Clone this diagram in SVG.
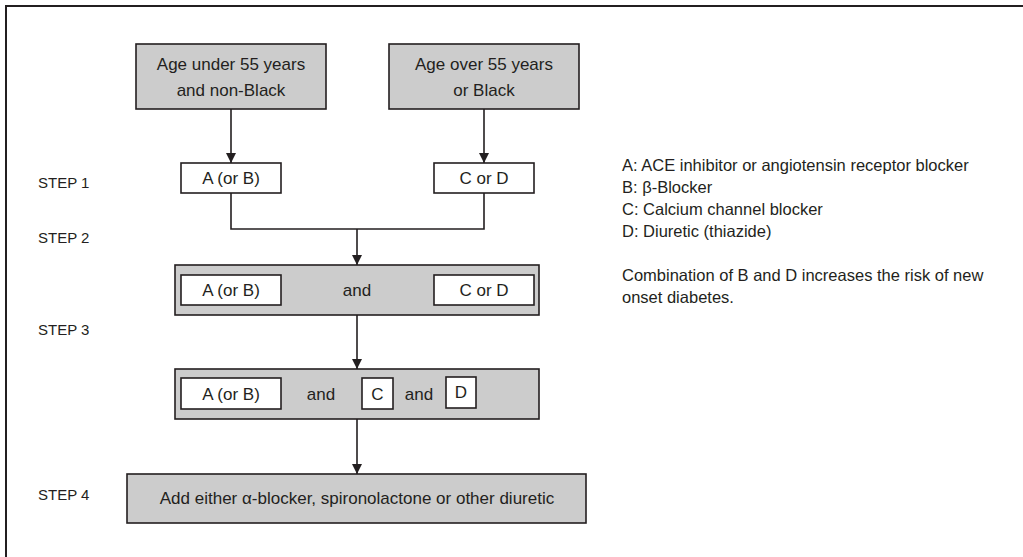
<svg xmlns="http://www.w3.org/2000/svg" width="1023" height="557" viewBox="0 0 1023 557">
<style>
  text { font-family: "Liberation Sans", Arial, sans-serif; fill: #231f20; }
  .big { font-size: 17px; text-anchor: middle; }
  .lbl { font-size: 15px; }
  .leg { font-size: 16.5px; }
  .gray { fill: #cccccc; stroke: #231f20; stroke-width: 1.6; }
  .white { fill: #ffffff; stroke: #231f20; stroke-width: 1.6; }
  .conn { fill: none; stroke: #231f20; stroke-width: 1.6; }
</style>
<defs>
  <marker id="arr" viewBox="0 0 10 14" refX="10" refY="7" markerWidth="10" markerHeight="14" markerUnits="userSpaceOnUse" orient="auto">
    <path d="M0,2 L10,7 L0,12 z" fill="#231f20"/>
  </marker>
</defs>
<rect width="1023" height="557" fill="#ffffff"/>
<path d="M6,557 L6,6 L1023,6" fill="none" stroke="#231f20" stroke-width="2"/>

<g id="connectors">
  <line class="conn" x1="231" y1="109" x2="231" y2="163" marker-end="url(#arr)"/>
  <line class="conn" x1="484" y1="109" x2="484" y2="163" marker-end="url(#arr)"/>
  <polyline class="conn" points="231,193 231,229 484,229 484,193"/>
  <line class="conn" x1="357" y1="229" x2="357" y2="265" marker-end="url(#arr)"/>
  <line class="conn" x1="357" y1="315" x2="357" y2="369" marker-end="url(#arr)"/>
  <line class="conn" x1="357" y1="419" x2="357" y2="474" marker-end="url(#arr)"/>
</g>

<g id="start-under55">
  <rect class="gray" x="136" y="44" width="190" height="65"/>
  <text class="big" x="231" y="70">Age under 55 years</text>
  <text class="big" x="231" y="96">and non-Black</text>
</g>
<g id="start-over55">
  <rect class="gray" x="389" y="44" width="190" height="65"/>
  <text class="big" x="484" y="70">Age over 55 years</text>
  <text class="big" x="484" y="96">or Black</text>
</g>

<g id="step-labels">
  <text class="lbl" x="38" y="188">STEP 1</text>
  <text class="lbl" x="38" y="243">STEP 2</text>
  <text class="lbl" x="38" y="335">STEP 3</text>
  <text class="lbl" x="38" y="500">STEP 4</text>
</g>

<g id="step1-a">
  <rect class="white" x="181" y="163" width="100" height="30"/>
  <text class="big" x="231" y="184">A (or B)</text>
</g>
<g id="step1-cd">
  <rect class="white" x="434" y="163" width="100" height="30"/>
  <text class="big" x="484" y="184">C or D</text>
</g>

<g id="step2">
  <rect class="gray" x="175" y="265" width="364" height="50"/>
  <rect class="white" x="181" y="275" width="100" height="30"/>
  <text class="big" x="231" y="296">A (or B)</text>
  <text class="big" x="357" y="296">and</text>
  <rect class="white" x="434" y="275" width="100" height="30"/>
  <text class="big" x="484" y="296">C or D</text>
</g>

<g id="step3">
  <rect class="gray" x="175" y="369" width="364" height="50"/>
  <rect class="white" x="181" y="378" width="100" height="31"/>
  <text class="big" x="231" y="400">A (or B)</text>
  <text class="big" x="321" y="400">and</text>
  <rect class="white" x="362" y="378" width="31" height="31"/>
  <text class="big" x="377.5" y="400">C</text>
  <text class="big" x="419" y="400">and</text>
  <rect class="white" x="446" y="377" width="30" height="31"/>
  <text class="big" x="461" y="398">D</text>
</g>

<g id="step4">
  <rect class="gray" x="127" y="474" width="459" height="49"/>
  <text class="big" x="357" y="504">Add either α-blocker, spironolactone or other diuretic</text>
</g>

<g id="legend">
  <text class="leg" x="622" y="171">A: ACE inhibitor or angiotensin receptor blocker</text>
  <text class="leg" x="622" y="193">B: β-Blocker</text>
  <text class="leg" x="622" y="215">C: Calcium channel blocker</text>
  <text class="leg" x="622" y="237">D: Diuretic (thiazide)</text>
  <text class="leg" x="622" y="281">Combination of B and D increases the risk of new</text>
  <text class="leg" x="622" y="303">onset diabetes.</text>
</g>
</svg>
